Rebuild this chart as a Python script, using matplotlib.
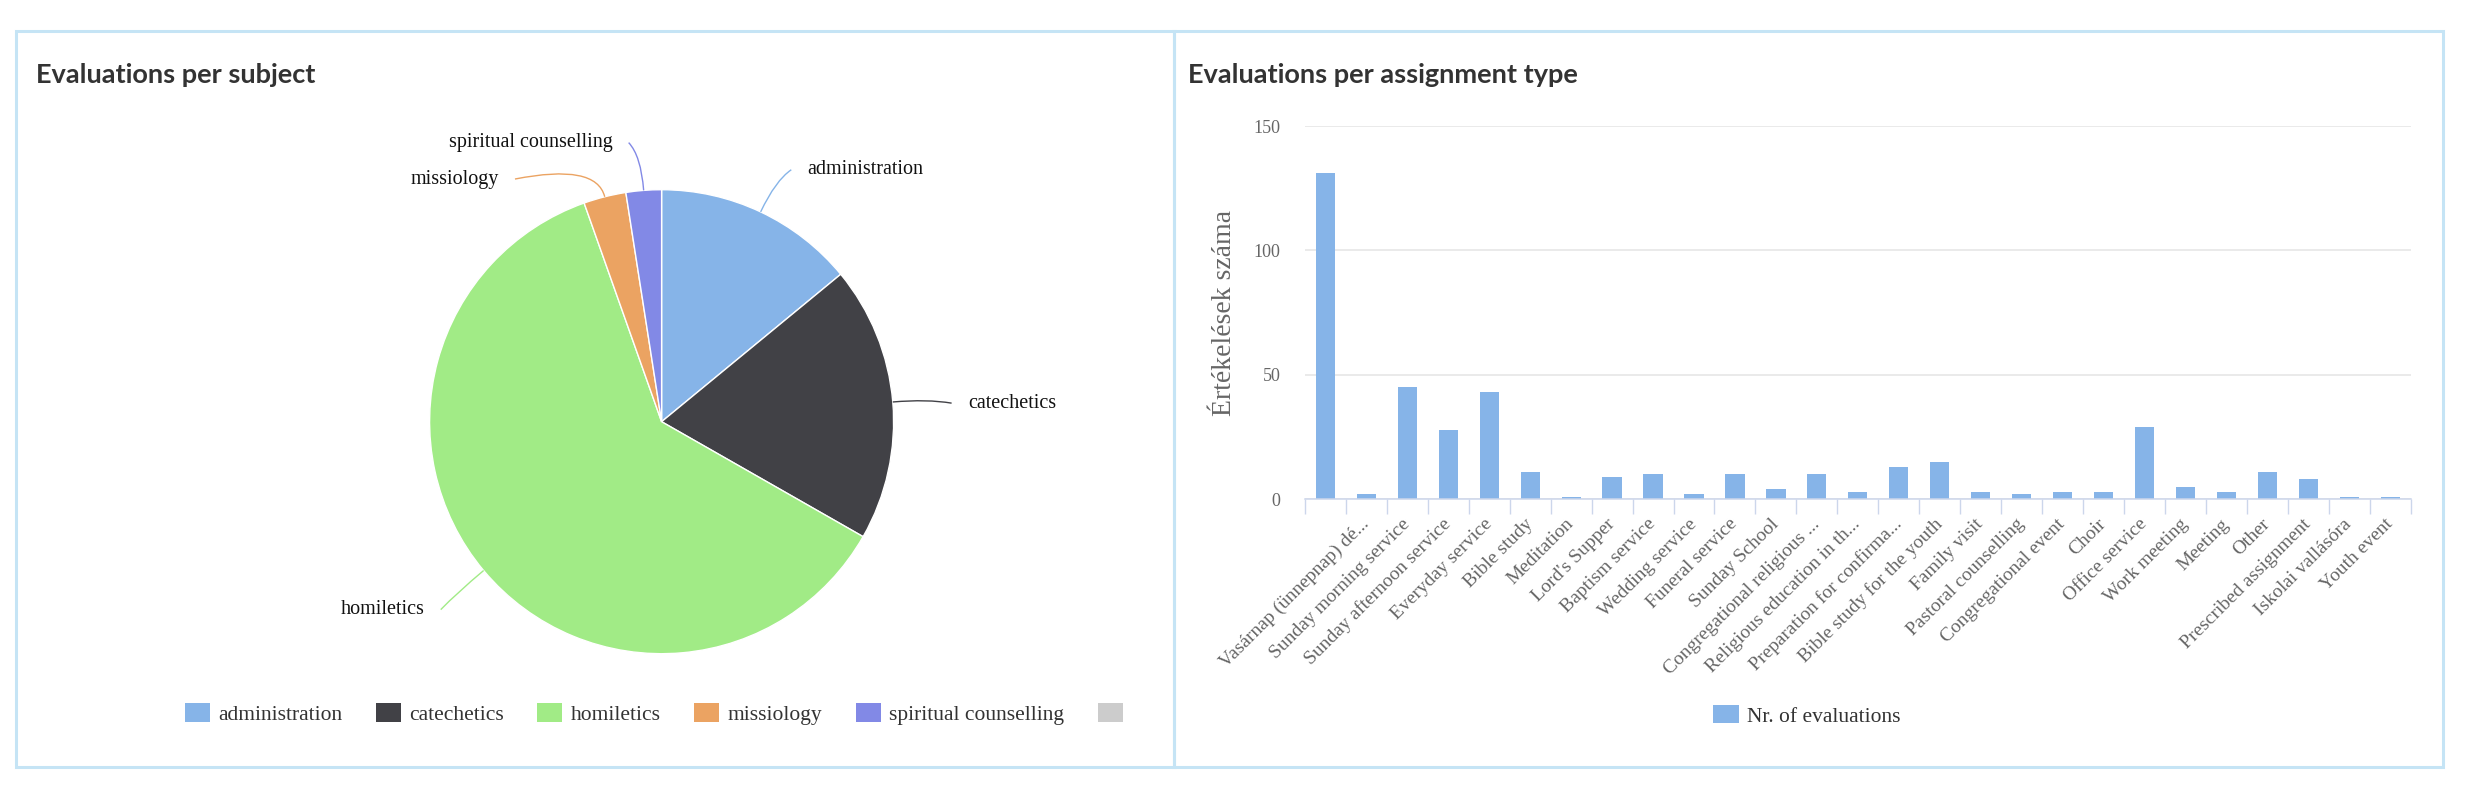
import matplotlib
matplotlib.use("Agg")
import matplotlib.pyplot as plt
from matplotlib.patches import Patch, Rectangle, PathPatch
from matplotlib.path import Path
import numpy as np

# ---- data ----
subjects = ['administration', 'catechetics', 'homiletics', 'missiology',
            'spiritual counselling', '']
subject_counts = [57, 78, 249, 12, 10, 0]
subject_colors = ['#86b4e8', '#414146', '#a1eb86', '#eba362', '#8289e6', '#cccccc']

assignment_types = ['', 'Vasárnap (ünnepnap) dé...', 'Sunday morning service',
                    'Sunday afternoon service', 'Everyday service', 'Bible study',
                    'Meditation', "Lord's Supper", 'Baptism service', 'Wedding service',
                    'Funeral service', 'Sunday School', 'Congregational religious ...',
                    'Religious education in th...', 'Preparation for confirma...',
                    'Bible study for the youth', 'Family visit', 'Pastoral counselling',
                    'Congregational event', 'Choir', 'Office service', 'Work meeting',
                    'Meeting', 'Other', 'Prescribed assignment', 'Iskolai vallásóra',
                    'Youth event']
assignment_counts = [131, 2, 45, 28, 43, 11, 1, 9, 10, 2, 10, 4, 10, 3, 13, 15,
                     3, 2, 3, 3, 29, 5, 3, 11, 8, 1, 1]
y_ticks = [0, 50, 100, 150]

# ---- layout helpers (pixels) ----
W, H = 2471, 792
fig = plt.figure(figsize=(W / 100, H / 100), dpi=100)
serif = ['Liberation Serif', 'DejaVu Serif']
title_font = ['Lato', 'Liberation Sans', 'DejaVu Sans']
border = '#c5e4f5'


def px_axes(left, top, right, bottom):
    return fig.add_axes([left / W, 1 - bottom / H, (right - left) / W, (bottom - top) / H])


# panel frames
for l, r in [(16, 1174), (1174, 2443)]:
    fig.add_artist(Rectangle((l / W, 1 - 767 / H), (r - l) / W, (767 - 31) / H,
                             transform=fig.transFigure, fill=False, ec=border, lw=2.2))

fig.text(36 / W, 1 - 83 / H, 'Evaluations per subject', fontsize=19.5, weight='bold',
         family=title_font, color='#333333', va='baseline')
fig.text(1188 / W, 1 - 83 / H, 'Evaluations per assignment type', fontsize=19.5,
         weight='bold', family=title_font, color='#333333', va='baseline')

# ---- pie ----
cx, cy, rad, a = 661.6, 421.7, 232, 1.55
ax1 = px_axes(cx - a * rad, cy - a * rad, cx + a * rad, cy + a * rad)
shown = [i for i, v in enumerate(subject_counts) if v > 0]
wedges, _ = ax1.pie([subject_counts[i] for i in shown],
                    colors=[subject_colors[i] for i in shown],
                    startangle=90, counterclock=False, radius=1,
                    wedgeprops=dict(edgecolor='white', linewidth=1.0))
ax1.set_xlim(-a, a)
ax1.set_ylim(-a, a)
ax1.axis('off')

# label placement (radius units): x, y, side
label_pos = {0: (0.629, 1.086, 'left'), 1: (1.32, 0.08, 'left'),
             2: (-1.022, -0.81, 'right'), 3: (-0.702, 1.046, 'right'),
             4: (-0.212, 1.203, 'right')}
for w, i in zip(wedges, shown):
    ang = np.deg2rad((w.theta1 + w.theta2) / 2)
    edge = np.array([np.cos(ang), np.sin(ang)])
    tx, ty, side = label_pos[i]
    end = (tx - 0.07, ty) if side == 'left' else (tx + 0.07, ty)
    path = Path([edge, 1.15 * edge, end], [Path.MOVETO, Path.CURVE3, Path.CURVE3])
    ax1.add_patch(PathPatch(path, fill=False, ec=subject_colors[i], lw=1.0))
    ax1.text(tx, ty, subjects[i], ha=side, va='center', fontsize=14.5,
             family=serif, color='#111111')

fig.legend([Patch(fc=c, ec='none') for c in subject_colors], subjects,
           loc='center', bbox_to_anchor=(658 / W, 1 - 714 / H), ncol=6,
           frameon=False, prop=dict(family=serif, size=15.5), labelcolor='#333333',
           handlelength=1.16, handleheight=0.93, handletextpad=0.39,
           columnspacing=1.56, borderpad=0, borderaxespad=0)

# ---- bars ----
ax2 = px_axes(1305, 126, 2410.6, 499.3)
x = np.arange(len(assignment_types))
ax2.bar(x, assignment_counts, width=0.47, color='#86b4e8', zorder=3)
ax2.set_xlim(-0.5, len(x) - 0.5)
ax2.set_ylim(0, 150)
for s in ['top', 'left', 'right']:
    ax2.spines[s].set_visible(False)
ax2.spines['bottom'].set_color('#ccd6eb')
ax2.spines['bottom'].set_linewidth(1.1)
ax2.spines['bottom'].set_zorder(4)
ax2.set_yticks(y_ticks)
ax2.yaxis.grid(True, color='#e6e6e6', lw=1.2)
ax2.set_axisbelow(True)
ax2.tick_params(axis='y', length=0, pad=17.6, labelsize=13, labelcolor='#666666')
for t in ax2.get_yticklabels():
    t.set_family(serif)

ax2.set_xticks(x)
ax2.set_xticklabels(assignment_types, rotation=45, ha='right', va='center',
                    rotation_mode='anchor', fontsize=14, color='#666666', family=serif)
ax2.tick_params(axis='x', which='major', length=0, pad=16)
ax2.set_xticks(np.arange(-0.5, len(x)), minor=True)
ax2.tick_params(axis='x', which='minor', length=10.8, color='#ccd6eb', width=1)

ax2.text((1224.7 - 1305) / 1105.6, 0.5, 'Értékelések száma', transform=ax2.transAxes,
         rotation=90, ha='center', va='center', fontsize=20, family=serif,
         color='#666666')

fig.legend([Patch(fc='#86b4e8', ec='none')], ['Nr. of evaluations'],
           loc='center left', bbox_to_anchor=(1713 / W, 1 - 716 / H),
           frameon=False, prop=dict(family=serif, size=15.5), labelcolor='#333333',
           handlelength=1.2, handleheight=0.9, handletextpad=0.4,
           borderpad=0, borderaxespad=0)

fig.savefig('out.png', dpi=100, facecolor='white')
